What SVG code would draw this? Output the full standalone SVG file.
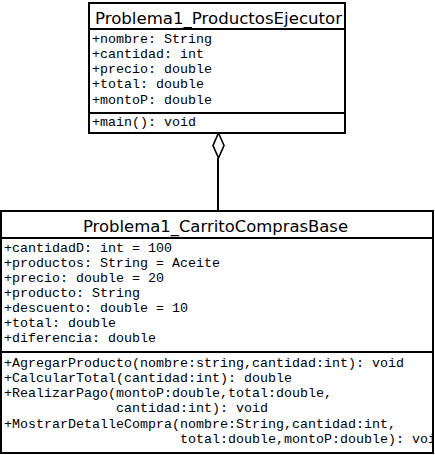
<svg xmlns="http://www.w3.org/2000/svg" width="435" height="455" viewBox="0 0 435 455">
<style>
.box{fill:#fff;stroke:#000;stroke-width:2}
.sep{stroke:#000;stroke-width:2}
.t{font-family:"DejaVu Sans","Liberation Sans",sans-serif;font-size:16px;fill:#000}
.m{font-family:"Liberation Mono","DejaVu Sans Mono",monospace;font-size:13.33px;fill:#000}
.c{fill:none;stroke:#000;stroke-width:2}
</style>
<defs>
<clipPath id="clipB"><rect x="0" y="211" width="433" height="243"/></clipPath>
</defs>
<g id="connectors">
<line class="c" x1="218" y1="158" x2="218" y2="211"/>
<polygon points="218.5,133 224,145.5 218.5,158 213,145.5" fill="#fff" stroke="#000" stroke-width="1.6"/>
</g>
<g id="Problema1_ProductosEjecutor">
<rect class="box" x="89" y="3" width="256" height="130"/>
<line class="sep" x1="89" y1="29" x2="345" y2="29"/>
<line class="sep" x1="89" y1="113" x2="345" y2="113"/>
<text class="t" x="95" y="24" textLength="247" lengthAdjust="spacingAndGlyphs">Problema1_ProductosEjecutor</text>
<text class="m" x="92" y="42.5">+nombre: String</text>
<text class="m" x="92" y="57.8">+cantidad: int</text>
<text class="m" x="92" y="73.1">+precio: double</text>
<text class="m" x="92" y="88.4">+total: double</text>
<text class="m" x="92" y="103.7">+montoP: double</text>
<text class="m" x="92" y="125.5">+main(): void</text>
</g>
<g id="Problema1_CarritoComprasBase">
<rect class="box" x="1" y="211" width="432" height="242"/>
<line class="sep" x1="1" y1="238" x2="433" y2="238"/>
<line class="sep" x1="1" y1="352" x2="433" y2="352"/>
<text class="t" x="83" y="232" textLength="265" lengthAdjust="spacingAndGlyphs">Problema1_CarritoComprasBase</text>
<text class="m" x="4" y="252">+cantidadD: int = 100</text>
<text class="m" x="4" y="267">+productos: String = Aceite</text>
<text class="m" x="4" y="282">+precio: double = 20</text>
<text class="m" x="4" y="297">+producto: String</text>
<text class="m" x="4" y="312">+descuento: double = 10</text>
<text class="m" x="4" y="327">+total: double</text>
<text class="m" x="4" y="342">+diferencia: double</text>
<g clip-path="url(#clipB)">
<text class="m" x="4" y="367">+AgregarProducto(nombre:string,cantidad:int): void</text>
<text class="m" x="4" y="382">+CalcularTotal(cantidad:int): double</text>
<text class="m" x="4" y="397">+RealizarPago(montoP:double,total:double,</text>
<text class="m" x="116" y="412">cantidad:int): void</text>
<text class="m" x="4" y="428">+MostrarDetalleCompra(nombre:String,cantidad:int,</text>
<text class="m" x="180" y="443">total:double,montoP:double): void</text>
</g>
</g>
</svg>
